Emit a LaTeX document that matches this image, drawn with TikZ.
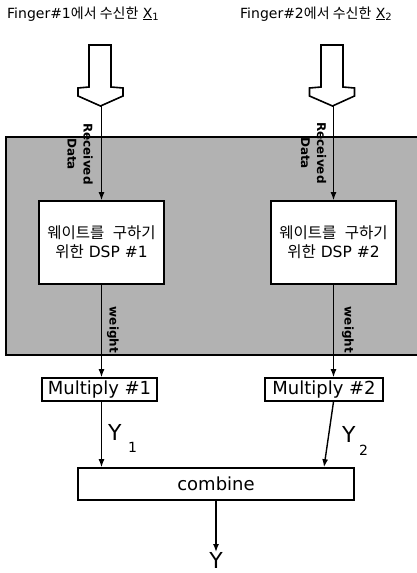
\documentclass[tikz,border=0pt]{standalone}
\usepackage{fontspec}
\setmainfont{DejaVu Sans}
\newfontfamily\kr{Noto Sans CJK KR}
\usetikzlibrary{arrows.meta}
\begin{document}
\begin{tikzpicture}[x=1pt,y=-1pt,
  shadearea/.style={fill=black!30, draw=black, line width=1.5pt},
  hollow/.style={draw=black, fill=white, line width=1.6pt, line join=miter},
  dspbox/.style={draw=black, fill=white, line width=1.6pt, minimum width=125pt, minimum height=83pt, inner sep=0pt, align=center, font=\fontsize{15.5}{19}\selectfont},
  mbox/.style={draw=black, fill=white, line width=1.6pt, minimum height=23pt, inner sep=0pt, font=\fontsize{18}{20}\selectfont},
  conn/.style={line width=1.4pt, -{Latex[length=8pt,width=6pt]}},
  rotlabel/.style={rotate=-90, inner sep=0pt, align=center, font=\bfseries\fontsize{12}{16}\selectfont},
  title/.style={anchor=base west, inner sep=0pt, font=\fontsize{14}{15}\selectfont},
  ylab/.style={anchor=base west, inner sep=0pt, font=\fontsize{22}{23}\selectfont},
  ysub/.style={anchor=base west, inner sep=0pt, font=\fontsize{14}{15}\selectfont}
]
\useasboundingbox (0,0) rectangle (416,573);
% shaded area
\draw[shadearea] (6,137) rectangle (424,355);
% titles
\node[title] (t1) at (7,18) {Finger\#1{\kr 에서 수신한} \underline{X}\raisebox{-2pt}{\fontsize{10}{10}\selectfont 1}};
\node[title] (t2) at (240,18) {Finger\#2{\kr 에서 수신한} \underline{X}\raisebox{-2pt}{\fontsize{10}{10}\selectfont 2}};
% hollow arrows
\draw[hollow] (89,45) -- (111,45) -- (111,87) -- (123,88) -- (123,96) -- (100.5,106) -- (78,96) -- (78,88) -- (89,87) -- cycle;
\coordinate (tip1) at (101.5,106);
\draw[hollow] (321,45) -- (343,45) -- (343,87) -- (354.5,88) -- (354.5,96) -- (332.5,106) -- (309.5,96) -- (309.5,88) -- (321,87) -- cycle;
\coordinate (tip2) at (333.5,106);
% DSP boxes
\node[dspbox] (dsp1) at (101.5,242.5) {{\kr 웨이트를\hspace{5pt} 구하기}\\{\kr 위한} DSP \#1};
\node[dspbox] (dsp2) at (333.5,242.5) {{\kr 웨이트를\hspace{5pt} 구하기}\\{\kr 위한} DSP \#2};
% rotated labels
\node[rotlabel] (rcv1) at (80,154) {Received\\Data};
\node[rotlabel] (rcv2) at (313.5,153) {Received\\Data};
\node[rotlabel] (w1) at (113,330) {weight};
\node[rotlabel] (w2) at (348,330) {weight};
% multiply and combine
\node[mbox, minimum width=115pt] (mul1) at (99.5,389.5) {Multiply \#1};
\node[mbox, minimum width=118pt] (mul2) at (324,389.5) {Multiply \#2};
\node[mbox, minimum width=276pt, minimum height=32pt] (comb) at (216,484) {combine};
\node[anchor=north, inner sep=0pt, font=\fontsize{22}{23}\selectfont] (yout) at (216,552) {Y};
% Y labels
\node[ylab] (y1) at (108,440) {Y};
\node[ysub] (y1s) at (128,452) {1};
\node[ylab] (y2) at (342,442) {Y};
\node[ysub] (y2s) at (359,455) {2};
% connectors
\draw[conn] (tip1) -- (tip1 |- dsp1.north);
\draw[conn] (tip2) -- (tip2 |- dsp2.north);
\draw[conn] (dsp1.south) -- (dsp1.south |- mul1.north);
\draw[conn] (dsp2.south) -- (dsp2.south |- mul2.north);
\draw[conn] (mul1.south -| dsp1.south) -- (comb.north -| dsp1.south);
\draw[conn] (mul2.south -| dsp2.south) -- (comb.north -| mul2.south);
\draw[conn] (comb.south) -- (yout.north);
\end{tikzpicture}
\end{document}
